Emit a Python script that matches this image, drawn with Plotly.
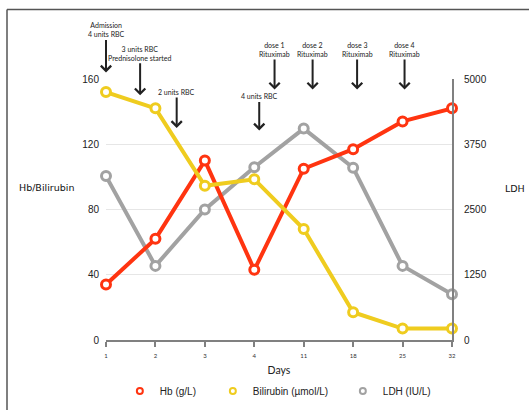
import plotly.graph_objects as go

# ---- data ----
days = ["1", "2", "3", "4", "11", "18", "25", "32"]
hb = [34, 62, 110, 43, 105, 117, 134, 142]
bilirubin = [152, 142, 94.5, 98.5, 68, 17, 7, 7]
ldh = [3140, 1420, 2500, 3310, 4050, 3300, 1420, 875]

left_ticks = [0, 40, 80, 120, 160]
right_ticks = [0, 1250, 2500, 3750, 5000]

event_labels = [
    "Admission<br>4 units RBC",
    "3 units RBC<br>Prednisolone started",
    "2 units RBC",
    "4 units RBC",
    "dose 1<br>Rituximab",
    "dose 2<br>Rituximab",
    "dose 3<br>Rituximab",
    "dose 4<br>Rituximab",
]
# event anchors (position along the day axis in category units, height in Hb units)
event_x = [0, 0.69, 1.43, 3.10, 3.41, 4.18, 5.08, 6.04]
event_y = [164, 150, 130, 128.5, 153.5, 153.5, 153.5, 153.5]
event_offset = [-42.5, -42, -36, -34, -40, -40, -40, -40]

RED = "#FF3410"
YEL = "#EFCC1F"
GRY = "#A2A2A2"

xi = list(range(len(days)))

fig = go.Figure()

def series(y, color, axis, name):
    return go.Scatter(
        x=xi, y=y, mode="lines+markers", name=name, yaxis=axis, showlegend=False,
        cliponaxis=False,
        line=dict(color=color, width=4),
        marker=dict(symbol="circle", size=9, color="white", line=dict(color=color, width=3)),
    )

# LDH on the primary (right) axis so it is drawn underneath
fig.add_trace(series(ldh, GRY, "y", "LDH (IU/L)"))
fig.add_trace(series(hb, RED, "y2", "Hb (g/L)"))
fig.add_trace(series(bilirubin, YEL, "y2", "Bilirubin (µmol/L)"))

# legend-only entries (marker only)
for name, color, w in [("Hb (g/L)", RED, 48), ("Bilirubin (µmol/L)", YEL, 85), ("LDH (IU/L)", GRY, 60)]:
    fig.add_trace(go.Scatter(
        x=[None], y=[None], mode="markers", name=name, legendwidth=w,
        marker=dict(symbol="circle", size=6, color="white", line=dict(color=color, width=2)),
    ))

HB_MAX = left_ticks[-1]
annotations = []
for lab, x, y, oy in zip(event_labels, event_x, event_y, event_offset):
    annotations.append(dict(
        x=x, y=y / HB_MAX, xref="x", yref="paper", text=lab, showarrow=True,
        ax=0, ay=oy, arrowhead=4, arrowsize=1, arrowwidth=2, arrowcolor="#222222",
        font=dict(family="Lato", size=7, color="#222222"),
    ))

annotations.append(dict(
    x=(17 - 106) / 346, y=(340 - 187) / 261.3, xref="paper", yref="paper",
    text="Hb/Bilirubin", showarrow=False, xanchor="left", yanchor="middle",
    font=dict(family="DejaVu Sans", size=9.5, color="#111"),
))
annotations.append(dict(
    x=(503 - 106) / 346, y=(340 - 188) / 261.3, xref="paper", yref="paper",
    text="LDH", showarrow=False, xanchor="left", yanchor="middle",
    font=dict(family="DejaVu Sans", size=9.5, color="#111"),
))

shapes = [
    dict(type="line", xref="paper", yref="paper",
         x0=(7 - 106) / 346, x1=(7 - 106) / 346, y0=(340 - 9) / 261.3, y1=(340 - 412) / 261.3,
         line=dict(color="#555", width=1.5)),
    dict(type="line", xref="paper", yref="paper",
         x0=(7 - 106) / 346, x1=(531 - 106) / 346, y0=(340 - 9) / 261.3, y1=(340 - 9) / 261.3,
         line=dict(color="#555", width=1.5)),
]

fig.update_layout(
    width=529, height=410,
    margin=dict(l=106, r=77, t=79, b=70, autoexpand=False),
    paper_bgcolor="white", plot_bgcolor="white",
    font=dict(family="Liberation Sans", size=10, color="#222"),
    xaxis=dict(
        range=[0, 7], tickvals=xi, ticktext=days, showgrid=False, zeroline=False,
        showline=True, linecolor="#808080", linewidth=2, automargin=False,
        ticks="outside", ticklen=5, tickwidth=1.5, tickcolor="#808080",
        tickfont=dict(family="Lato", size=6, color="#333"),
        ticklabelstandoff=4,
        title=dict(text="Days", font=dict(family="Lato", size=10.5, color="#222"), standoff=8),
    ),
    yaxis=dict(
        range=[0, 5000], tickvals=right_ticks, side="right", automargin=False,
        showgrid=True, gridcolor="#E6E6E6", gridwidth=1, zeroline=False,
        showline=True, linecolor="#808080", linewidth=2, ticks="",
        tickfont=dict(family="Liberation Sans", size=10, color="#222"),
        ticklabelstandoff=8,
    ),
    yaxis2=dict(
        range=[0, 160], tickvals=left_ticks, side="left", overlaying="y", automargin=False,
        showgrid=False, zeroline=False, showline=False, ticks="",
        tickfont=dict(family="Liberation Sans", size=10, color="#222"),
        ticklabelstandoff=6,
    ),
    legend=dict(
        orientation="h", x=0.04, y=-0.195, xanchor="left", yanchor="middle",
        font=dict(family="Liberation Sans", size=10, color="#222"),
        bgcolor="rgba(0,0,0,0)",
    ),
    annotations=annotations,
    shapes=shapes,
)

fig.write_html("out.html", config={"displayModeBar": False},
               post_script="document.body.style.margin='0';")
